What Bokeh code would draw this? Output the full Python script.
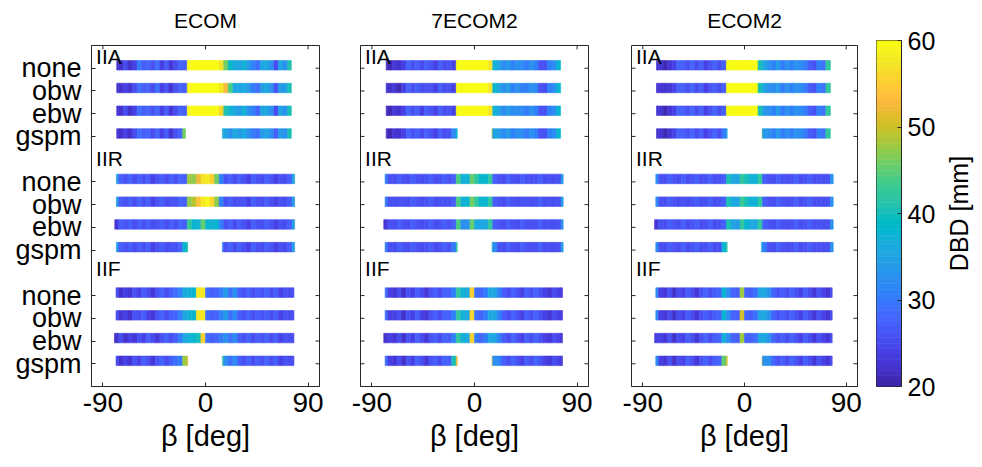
import math
from bokeh.plotting import figure
from bokeh.models import ColumnDataSource, Range1d, FixedTicker
from bokeh.core.properties import value
from bokeh.transform import linear_cmap
from bokeh.layouts import row, column
from bokeh.embed import file_html
from bokeh.resources import INLINE

_ = None
# ---------------- data ----------------
beta_edges = list(range(-80, 81, 4))          # 4-degree beta bins
groups = ["IIA", "IIR", "IIF"]
models = ["none", "obw", "ebw", "gspm"]
panel_titles = ["ECOM", "7ECOM2", "ECOM2"]
x_ticks = [-90, 0, 90]
x_tick_labels = ["-90", "0", "90"]
cb_ticks = [20, 30, 40, 50, 60]
cb_label = "DBD [mm]"
x_label = "β [deg]"
dbd_low, dbd_high = 20, 60

# ECOM
ECOM_IIA_none = [23, 22, 25, 22, 24, 30, 27, 28, 26, 29, 24, 27, 23, 25, 28, 27, 60, 60, 60, 60, 60, 60, 60, 57, 46, 39, 36, 35, 37, 34, 31, 29, 35, 36, 33, 25, 35, 33, 41, _]
ECOM_IIA_obw = [23, 22, 24, 23, 25, 29, 27, 28, 25, 29, 24, 26, 23, 26, 28, 27, 60, 60, 60, 60, 60, 60, 60, 58, 53, 44, 36, 35, 36, 34, 30, 29, 34, 36, 33, 26, 34, 34, 40, _]
ECOM_IIA_ebw = [23, 22, 25, 22, 24, 29, 27, 28, 26, 28, 24, 27, 23, 25, 28, 27, 60, 60, 60, 60, 60, 60, 60, 56, 41, 37, 36, 34, 37, 33, 31, 28, 35, 35, 33, 25, 35, 33, 40, _]
ECOM_IIA_gspm = [23, 22, 24, 22, 25, 29, 27, 28, 25, 28, 24, 27, 23, 26, 28, 46, _, _, _, _, _, _, _, 36, 35, 33, 36, 34, 36, 33, 30, 29, 34, 35, 32, 27, 34, 33, 40, _]
ECOM_IIR_none = [34, 27, 26, 28, 25, 27, 26, 27, 24, 26, 27, 25, 27, 26, 28, 27, 48, 47, 52, 57, 58, 55, 46, 31, 26, 27, 25, 27, 26, 24, 27, 26, 25, 27, 26, 24, 26, 25, 27, 35]
ECOM_IIR_obw = [34, 27, 26, 27, 25, 28, 26, 27, 24, 26, 27, 25, 26, 26, 28, 27, 47, 49, 54, 58, 59, 56, 47, 31, 26, 27, 25, 26, 26, 24, 27, 26, 25, 27, 25, 24, 26, 25, 27, 34]
ECOM_IIR_ebw = [23, 27, 26, 27, 25, 27, 26, 27, 25, 26, 27, 25, 27, 26, 28, 27, 43, 38, 37, 45, 38, 37, 38, 30, 26, 27, 25, 27, 26, 24, 27, 26, 25, 27, 26, 24, 26, 25, 27, 34]
ECOM_IIR_gspm = [34, 27, 26, 27, 25, 27, 26, 27, 24, 26, 27, 25, 26, 26, 28, 38, 42, _, _, _, _, _, _, 30, 26, 27, 25, 27, 26, 24, 27, 26, 25, 27, 26, 24, 26, 25, 27, 34]
ECOM_IIF_none = [25, 22, 24, 23, 26, 24, 27, 25, 23, 26, 28, 25, 27, 29, 31, 36, 37, 38, 58, 58, 29, 27, 28, 30, 34, 29, 33, 27, 26, 28, 25, 27, 26, 28, 25, 27, 24, 26, 25, 25]
ECOM_IIF_obw = [25, 23, 24, 22, 26, 25, 27, 24, 23, 26, 28, 25, 27, 28, 31, 35, 37, 38, 57, 58, 29, 27, 28, 31, 34, 29, 32, 27, 26, 28, 25, 27, 26, 27, 25, 27, 24, 26, 25, 25]
ECOM_IIF_ebw = [22, 25, 22, 24, 23, 26, 24, 27, 25, 23, 26, 28, 25, 27, 30, 35, 37, 38, 40, 55, 29, 27, 28, 30, 33, 29, 32, 27, 26, 28, 25, 27, 26, 28, 25, 27, 24, 26, 25, 25]
ECOM_IIF_gspm = [25, 22, 24, 23, 26, 24, 27, 25, 23, 26, 28, 25, 27, 29, 30, 48, 52, _, _, _, _, _, _, 42, 33, 29, 32, 27, 26, 28, 25, 27, 26, 28, 25, 27, 24, 26, 25, 25]
ECOM_start = [-77.9, -77.9, -77.9, -77.9, -78.2, -78.2, -79.6, -78.2, -78.5, -78.5, -79.9, -78.5]
ECOM_end = [75.3, 75.3, 75.3, 75.3, 78.2, 78.2, 78.2, 78.2, 77.6, 77.6, 77.6, 77.6]
ECOM_gap_lo = [-17.5, -15.7, -15.7]
ECOM_gap_hi = [14.8, 14.8, 14.8]

# 7ECOM2
S7_IIA_none = [22, 21, 23, 22, 24, 28, 26, 27, 25, 27, 26, 24, 27, 25, 26, 24, 60, 60, 60, 60, 60, 60, 60, 57, 37, 35, 32, 34, 31, 33, 32, 30, 33, 31, 26, 26, 31, 32, 38, _]
S7_IIA_obw = [22, 22, 23, 21, 24, 28, 26, 27, 25, 26, 26, 24, 27, 25, 26, 24, 60, 60, 60, 60, 60, 60, 60, 57, 38, 35, 33, 34, 31, 33, 31, 30, 33, 32, 26, 25, 31, 32, 38, _]
S7_IIA_ebw = [22, 21, 23, 22, 24, 28, 26, 27, 24, 27, 26, 24, 27, 25, 26, 24, 60, 60, 60, 60, 60, 60, 60, 57, 37, 35, 32, 34, 32, 33, 32, 30, 33, 31, 26, 26, 31, 32, 38, _]
S7_IIA_gspm = [22, 21, 23, 22, 24, 28, 26, 27, 25, 27, 26, 24, 27, 25, 26, 32, 38, _, _, _, _, _, _, 50, 35, 34, 32, 34, 31, 33, 32, 30, 33, 31, 26, 26, 31, 32, 38, _]
S7_IIR_none = [30, 26, 25, 27, 26, 25, 27, 26, 25, 26, 27, 25, 26, 27, 26, 27, 44, 37, 37, 45, 42, 38, 38, 42, 27, 26, 25, 27, 26, 25, 27, 26, 25, 26, 27, 25, 26, 25, 26, 34]
S7_IIR_obw = [30, 26, 25, 26, 26, 25, 27, 26, 25, 26, 27, 25, 26, 26, 26, 27, 44, 37, 38, 46, 42, 38, 38, 42, 27, 26, 25, 27, 26, 25, 26, 26, 25, 26, 27, 25, 26, 25, 26, 34]
S7_IIR_ebw = [23, 26, 25, 27, 26, 25, 27, 26, 25, 26, 27, 25, 26, 27, 26, 27, 44, 33, 33, 45, 36, 35, 36, 42, 27, 26, 25, 27, 26, 25, 27, 26, 25, 26, 27, 25, 26, 25, 26, 33]
S7_IIR_gspm = [30, 26, 25, 27, 26, 25, 27, 26, 25, 26, 27, 25, 26, 27, 26, 30, 42, _, _, _, _, _, _, 42, 32, 26, 25, 27, 26, 25, 27, 26, 25, 26, 27, 25, 26, 25, 26, 34]
S7_IIF_none = [29, 24, 23, 25, 22, 26, 24, 27, 25, 23, 26, 27, 25, 28, 27, 31, 42, 37, 36, 55, 29, 28, 30, 36, 35, 31, 27, 25, 28, 26, 24, 27, 25, 28, 26, 24, 23, 25, 24, 23]
S7_IIF_obw = [29, 24, 24, 25, 22, 26, 24, 27, 24, 23, 26, 27, 25, 28, 27, 31, 42, 37, 36, 56, 29, 28, 30, 36, 35, 31, 27, 25, 28, 26, 24, 27, 25, 28, 26, 24, 23, 25, 24, 23]
S7_IIF_ebw = [22, 24, 23, 25, 22, 26, 24, 27, 25, 23, 26, 27, 25, 28, 27, 31, 42, 37, 36, 55, 30, 28, 30, 36, 35, 31, 27, 25, 28, 26, 24, 27, 25, 28, 26, 24, 23, 25, 24, 23]
S7_IIF_gspm = [29, 24, 23, 25, 22, 26, 24, 27, 25, 23, 26, 27, 25, 28, 27, 40, 52, _, _, _, _, _, _, 52, 33, 31, 27, 25, 28, 26, 24, 27, 25, 28, 26, 24, 23, 25, 24, 23]
S7_start = [-77.5, -77.5, -77.5, -77.5, -78.4, -78.4, -79.6, -78.4, -78.4, -78.4, -79.6, -78.4]
S7_end = [75.5, 75.5, 75.5, 75.5, 77.8, 77.8, 77.8, 77.8, 77.2, 77.2, 77.2, 77.2]
S7_gap_lo = [-15.1, -15.1, -15.1]
S7_gap_hi = [15.4, 15.4, 15.4]

# ECOM2
E2_IIA_none = [22, 23, 21, 23, 24, 28, 27, 26, 28, 25, 27, 24, 26, 28, 25, 27, 60, 60, 60, 60, 60, 60, 60, 40, 35, 33, 31, 34, 30, 33, 31, 33, 32, 30, 27, 26, 31, 29, 42, _]
E2_IIA_obw = [22, 23, 22, 23, 24, 28, 27, 26, 28, 25, 27, 24, 26, 27, 25, 27, 60, 60, 60, 60, 60, 60, 60, 40, 35, 33, 32, 34, 30, 33, 31, 33, 32, 30, 27, 26, 31, 29, 42, _]
E2_IIA_ebw = [22, 23, 21, 23, 24, 28, 27, 26, 28, 25, 27, 24, 26, 28, 25, 27, 60, 60, 60, 60, 60, 60, 60, 40, 34, 33, 31, 34, 30, 33, 31, 33, 32, 30, 27, 26, 31, 29, 42, _]
E2_IIA_gspm = [22, 23, 21, 23, 24, 28, 27, 26, 28, 25, 27, 24, 26, 28, 25, 30, 36, _, _, _, _, _, _, 48, 34, 33, 31, 34, 30, 33, 31, 33, 32, 30, 27, 26, 31, 29, 42, _]
E2_IIR_none = [32, 26, 25, 27, 26, 25, 27, 25, 26, 27, 25, 26, 27, 25, 26, 27, 40, 36, 35, 42, 40, 37, 37, 42, 27, 26, 25, 27, 26, 25, 26, 27, 25, 26, 27, 25, 26, 25, 26, 33]
E2_IIR_obw = [32, 26, 25, 27, 26, 25, 26, 25, 26, 27, 25, 26, 27, 25, 26, 27, 40, 36, 35, 43, 40, 37, 37, 42, 27, 26, 25, 27, 26, 25, 26, 27, 25, 26, 27, 25, 26, 25, 26, 33]
E2_IIR_ebw = [23, 26, 25, 27, 26, 25, 27, 25, 26, 27, 25, 26, 27, 25, 26, 27, 40, 35, 34, 42, 38, 36, 36, 42, 27, 26, 25, 27, 26, 25, 26, 27, 25, 26, 27, 25, 26, 25, 26, 33]
E2_IIR_gspm = [32, 26, 25, 27, 26, 25, 27, 25, 26, 27, 25, 26, 27, 25, 26, 38, 42, _, _, _, _, _, _, 37, 30, 26, 25, 27, 26, 25, 26, 27, 25, 26, 27, 25, 26, 25, 26, 33]
E2_IIF_none = [32, 24, 23, 26, 22, 25, 24, 27, 25, 23, 26, 28, 25, 27, 28, 38, 32, 28, 27, 48, 28, 27, 29, 35, 36, 33, 28, 26, 27, 25, 28, 26, 24, 27, 25, 23, 26, 24, 23, 25]
E2_IIF_obw = [32, 24, 23, 25, 22, 25, 24, 27, 25, 23, 26, 27, 25, 27, 28, 38, 32, 28, 27, 50, 28, 27, 29, 35, 36, 33, 28, 26, 27, 25, 28, 26, 24, 27, 25, 23, 26, 24, 23, 25]
E2_IIF_ebw = [24, 24, 23, 26, 22, 25, 24, 27, 25, 23, 26, 28, 25, 27, 28, 37, 32, 28, 27, 48, 28, 27, 29, 35, 36, 33, 28, 26, 27, 25, 28, 26, 24, 27, 25, 23, 26, 24, 23, 25]
E2_IIF_gspm = [32, 24, 23, 26, 22, 25, 24, 27, 25, 23, 26, 28, 25, 27, 28, 45, 50, _, _, _, _, _, _, 50, 33, 33, 28, 26, 27, 25, 28, 26, 24, 27, 25, 23, 26, 24, 23, 25]
E2_start = [-77.9, -77.9, -77.9, -77.9, -78.5, -78.5, -79.6, -78.5, -78.5, -78.5, -79.6, -78.5]
E2_end = [76.1, 76.1, 76.1, 76.1, 78.5, 78.5, 78.5, 78.5, 77.6, 77.6, 77.6, 77.6]
E2_gap_lo = [-15.3, -15.3, -15.3]
E2_gap_hi = [15.6, 15.0, 15.6]

# ---------------- style ----------------
PARULA = [
    (0.2422, 0.1504, 0.6603), (0.2504, 0.1650, 0.7076), (0.2578, 0.1818, 0.7511), (0.2647, 0.1978, 0.7952),
    (0.2706, 0.2147, 0.8364), (0.2751, 0.2342, 0.8710), (0.2783, 0.2559, 0.8991), (0.2803, 0.2782, 0.9221),
    (0.2813, 0.3006, 0.9414), (0.2810, 0.3228, 0.9579), (0.2795, 0.3447, 0.9717), (0.2760, 0.3667, 0.9829),
    (0.2699, 0.3892, 0.9906), (0.2602, 0.4123, 0.9952), (0.2440, 0.4358, 0.9988), (0.2206, 0.4603, 0.9973),
    (0.1963, 0.4847, 0.9892), (0.1834, 0.5074, 0.9798), (0.1786, 0.5289, 0.9682), (0.1764, 0.5499, 0.9520),
    (0.1687, 0.5703, 0.9359), (0.1540, 0.5902, 0.9218), (0.1460, 0.6091, 0.9079), (0.1380, 0.6276, 0.8973),
    (0.1248, 0.6459, 0.8883), (0.1113, 0.6635, 0.8763), (0.0952, 0.6798, 0.8598), (0.0689, 0.6948, 0.8394),
    (0.0297, 0.7082, 0.8163), (0.0036, 0.7203, 0.7917), (0.0067, 0.7312, 0.7660), (0.0433, 0.7411, 0.7394),
    (0.0964, 0.7500, 0.7120), (0.1408, 0.7584, 0.6842), (0.1717, 0.7670, 0.6554), (0.1938, 0.7758, 0.6251),
    (0.2161, 0.7843, 0.5923), (0.2470, 0.7918, 0.5567), (0.2906, 0.7973, 0.5188), (0.3406, 0.8008, 0.4789),
    (0.3909, 0.8029, 0.4354), (0.4456, 0.8024, 0.3909), (0.5044, 0.7993, 0.3480), (0.5616, 0.7942, 0.3045),
    (0.6174, 0.7876, 0.2612), (0.6720, 0.7793, 0.2227), (0.7242, 0.7698, 0.1910), (0.7738, 0.7598, 0.1646),
    (0.8203, 0.7498, 0.1535), (0.8634, 0.7406, 0.1596), (0.9035, 0.7330, 0.1774), (0.9393, 0.7288, 0.2100),
    (0.9728, 0.7298, 0.2394), (0.9956, 0.7434, 0.2371), (0.9970, 0.7659, 0.2199), (0.9952, 0.7893, 0.2028),
    (0.9892, 0.8136, 0.1885), (0.9786, 0.8386, 0.1766), (0.9676, 0.8639, 0.1643), (0.9610, 0.8890, 0.1537),
    (0.9597, 0.9135, 0.1423), (0.9628, 0.9373, 0.1265), (0.9691, 0.9606, 0.1064), (0.9769, 0.9839, 0.0805)]
palette = ["#%02x%02x%02x" % tuple(int(round(c * 255)) for c in rgb) for rgb in PARULA]
FONT = "Liberation Sans"
AX = "#262626"
TOTAL_H = 467
TITLE_H = 36
FIG_H = TOTAL_H - TITLE_H
TICK_PX = 4

row_pos = [g * 5 + m + 1 for g in range(len(groups)) for m in range(len(models))]
row_names = [m for g in groups for m in models]


def build_source(strips, starts, ends, gap_lo, gap_hi):
    L, R, T, B, V = [], [], [], [], []
    for i, vals in enumerate(strips):
        g, m = divmod(i, 4)
        ypos = row_pos[i]
        for k, v in enumerate(vals):
            if v is None:
                continue
            lo = max(beta_edges[k], starts[i])
            hi = min(beta_edges[k + 1], ends[i])
            if models[m] == "gspm":
                glo, ghi = gap_lo[g], gap_hi[g]
                if lo < ghi and hi > glo:
                    if lo < glo:
                        hi = glo
                    elif hi > ghi:
                        lo = ghi
                    else:
                        continue
            if hi <= lo:
                continue
            L.append(lo); R.append(hi)
            T.append(ypos - 0.34); B.append(ypos + 0.08)
            V.append(v)
    return ColumnDataSource(dict(left=L, right=R, top=T, bottom=B, val=V))


def style_axis(ax, label_size):
    ax.axis_line_color = AX
    ax.major_tick_line_color = AX
    ax.major_tick_in = TICK_PX
    ax.major_tick_out = 0
    ax.minor_tick_in = 0
    ax.minor_tick_out = 0
    ax.major_label_text_font = FONT
    ax.major_label_text_font_size = label_size
    ax.major_label_text_color = "black"


def bare_figure(width, height, xr, yr, bl=0, br=0):
    f = figure(width=width, height=height, x_range=xr, y_range=yr, output_backend="svg",
               toolbar_location=None, x_axis_location=None, y_axis_location=None,
               min_border_left=bl, min_border_right=br, min_border_top=0, min_border_bottom=0)
    f.grid.visible = False
    f.outline_line_color = None
    f.background_fill_color = None
    f.border_fill_color = None
    return f


def make_title(text, width, bl, br, center_px):
    t = bare_figure(width, TITLE_H, Range1d(-100, 100), Range1d(TITLE_H, 0), bl, br)
    t.text(x=[0], y=[center_px], text=[text], text_align="center", text_baseline="middle",
           text_font=value(FONT), text_font_size="21px", text_color="black")
    return t


def make_panel(src, width, frame_w, bl, br, bt, bb, show_ylabels):
    p = figure(width=width, height=FIG_H, x_range=Range1d(-100, 100), y_range=Range1d(15, 0),
               output_backend="svg", toolbar_location=None,
               min_border_left=bl, min_border_right=br, min_border_top=bt, min_border_bottom=bb)
    p.grid.visible = False
    p.outline_line_color = AX
    p.background_fill_color = "white"
    p.border_fill_color = "white"
    cmap = linear_cmap("val", palette, dbd_low, dbd_high)
    p.quad(left="left", right="right", top="top", bottom="bottom", source=src,
           fill_color=cmap, line_color=cmap, line_width=0.6)

    xa = p.xaxis[0]
    xa.ticker = FixedTicker(ticks=x_ticks)
    xa.major_label_overrides = {t: s for t, s in zip(x_ticks, x_tick_labels)}
    style_axis(xa, "28px")
    xa.major_label_standoff = 6
    xa.axis_label = x_label
    xa.axis_label_text_font = FONT
    xa.axis_label_text_font_size = "29px"
    xa.axis_label_text_font_style = "normal"
    xa.axis_label_text_color = "black"
    xa.axis_label_standoff = 5

    # tick marks on the boxed sides (top, right, and left where no labels)
    span_x = 200.0 / frame_w * TICK_PX
    span_y = 15.0 / 344 * TICK_PX
    p.segment(x0=x_ticks, y0=[0] * len(x_ticks), x1=x_ticks, y1=[span_y] * len(x_ticks),
              line_color=AX, line_width=1)
    p.segment(x0=[100 - span_x] * len(row_pos), y0=row_pos, x1=[100] * len(row_pos), y1=row_pos,
              line_color=AX, line_width=1)

    ya = p.yaxis[0]
    if show_ylabels:
        ya.ticker = FixedTicker(ticks=row_pos)
        ya.major_label_overrides = {t: s for t, s in zip(row_pos, row_names)}
        style_axis(ya, "27px")
        ya.major_label_standoff = 10
    else:
        ya.visible = False
        p.segment(x0=[-100] * len(row_pos), y0=row_pos, x1=[-100 + span_x] * len(row_pos), y1=row_pos,
                  line_color=AX, line_width=1)

    gys = [0.5, 4.95, 9.8]
    p.text(x=[-96] * len(groups), y=gys, text=groups, text_align="left", text_baseline="middle",
           text_font=value(FONT), text_font_size="21px", text_color="black")
    return p


src1 = build_source([ECOM_IIA_none, ECOM_IIA_obw, ECOM_IIA_ebw, ECOM_IIA_gspm,
                     ECOM_IIR_none, ECOM_IIR_obw, ECOM_IIR_ebw, ECOM_IIR_gspm,
                     ECOM_IIF_none, ECOM_IIF_obw, ECOM_IIF_ebw, ECOM_IIF_gspm],
                    ECOM_start, ECOM_end, ECOM_gap_lo, ECOM_gap_hi)
src2 = build_source([S7_IIA_none, S7_IIA_obw, S7_IIA_ebw, S7_IIA_gspm,
                     S7_IIR_none, S7_IIR_obw, S7_IIR_ebw, S7_IIR_gspm,
                     S7_IIF_none, S7_IIF_obw, S7_IIF_ebw, S7_IIF_gspm],
                    S7_start, S7_end, S7_gap_lo, S7_gap_hi)
src3 = build_source([E2_IIA_none, E2_IIA_obw, E2_IIA_ebw, E2_IIA_gspm,
                     E2_IIR_none, E2_IIR_obw, E2_IIR_ebw, E2_IIR_gspm,
                     E2_IIF_none, E2_IIF_obw, E2_IIF_ebw, E2_IIF_gspm],
                    E2_start, E2_end, E2_gap_lo, E2_gap_hi)

t1 = make_title(panel_titles[0], 340, 91, 21, 20)
t2 = make_title(panel_titles[1], 270, 20, 22, 20)
t3 = make_title(panel_titles[2], 257, 21, 10, 20)

p1 = make_panel(src1, 340, 228, 91, 21, 42 - TITLE_H, 81, True)
p2 = make_panel(src2, 270, 228, 20, 22, 45 - TITLE_H, 78, False)
p3 = make_panel(src3, 257, 226, 21, 10, 42 - TITLE_H, 81, False)

# colorbar (full height, so its top label has room)
cb = figure(width=73, height=TOTAL_H, x_range=Range1d(0, 1), y_range=Range1d(dbd_low, dbd_high),
            output_backend="svg", toolbar_location=None, x_axis_location=None, y_axis_location="right",
            min_border_left=9, min_border_right=39, min_border_top=40, min_border_bottom=81)
cb.grid.visible = False
cb.outline_line_color = AX
cb.border_fill_color = None
n = len(palette)
step = (dbd_high - dbd_low) / n
cb.quad(left=0, right=1, bottom=[dbd_low + i * step for i in range(n)],
        top=[dbd_low + (i + 1) * step for i in range(n)], fill_color=palette, line_color=palette, line_width=0.6)
cya = cb.yaxis[0]
cya.ticker = FixedTicker(ticks=cb_ticks)
style_axis(cya, "25px")
cya.major_label_standoff = 6

# colorbar label, reading bottom to top
lab = figure(width=42, height=TOTAL_H, x_range=Range1d(0, 42), y_range=Range1d(dbd_low, dbd_high),
             output_backend="svg", toolbar_location=None, x_axis_location=None, y_axis_location=None,
             min_border_left=0, min_border_right=0, min_border_top=40, min_border_bottom=81)
lab.grid.visible = False
lab.outline_line_color = None
lab.border_fill_color = None
lab.text(x=[18], y=[(dbd_low + dbd_high) / 2], text=[cb_label], angle=math.pi / 2,
         text_align="center", text_baseline="middle", text_font=value(FONT),
         text_font_size="25px", text_color="black")

panels = column(row(t1, t2, t3), row(p1, p2, p3))
layout = row(panels, cb, lab)
open("out.html", "w").write(file_html(layout, INLINE))
